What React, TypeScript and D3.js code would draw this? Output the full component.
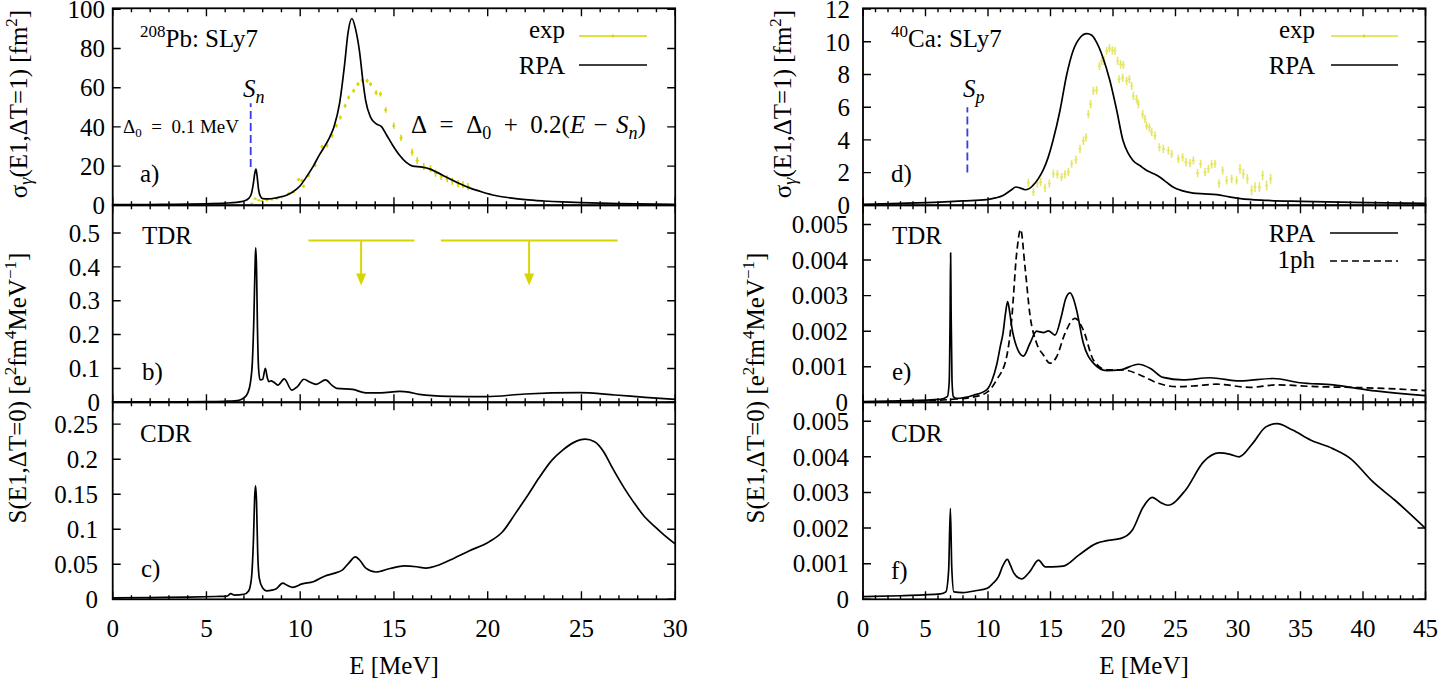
import React from "react";
import * as d3 from "d3";

type P = [number, number];
type EP = [number, number, number];

// ---------- DATA ----------
const pbSigmaRPA: P[] = [
  [0, 0.3], [1, 0.35], [2, 0.4], [3, 0.5], [4, 0.6], [5, 0.8], [6, 1.1], [6.6, 1.5], [7.0, 2.2], [7.25, 3.5],
  [7.4, 6], [7.5, 11], [7.58, 16.5], [7.64, 18.5], [7.7, 15], [7.78, 8], [7.88, 4.5], [8.0, 3.4], [8.3, 3.3],
  [8.6, 3.6], [8.9, 4.2], [9.3, 5.3], [9.6, 6.8], [10.0, 10], [10.3, 14], [10.7, 20], [11.04, 26], [11.3, 30],
  [11.57, 34.7], [11.8, 40], [12.1, 52], [12.37, 72], [12.55, 88], [12.76, 95.3], [12.95, 90], [13.17, 78],
  [13.35, 63], [13.5, 53], [13.75, 45], [14.06, 41.5], [14.32, 40.3], [14.6, 36], [14.94, 30.5], [15.3, 25.5],
  [15.64, 22], [16.0, 20], [16.5, 19.5], [16.9, 18.6], [17.3, 16.8], [17.78, 14.4], [18.4, 11.5], [19.0, 9],
  [19.7, 6.8], [20.4, 5], [21.2, 3.8], [22, 2.9], [23, 2.2], [24, 1.7], [25, 1.35], [26, 1.1], [27, 0.9],
  [28, 0.75], [29, 0.62], [30, 0.52],
];

// [E, sigma, error]
const pbSigmaExp: EP[] = [
  [7.42, 0.9, 0.3], [7.6, 3.4, 0.6], [7.78, 2.6, 0.5], [7.95, 2.2, 0.5], [8.22, 2.6, 0.5], [8.49, 2.9, 0.5],
  [8.75, 3.4, 0.5], [9.02, 4.2, 0.6], [9.38, 5.9, 0.7], [9.64, 6.8, 0.7], [9.91, 13.1, 0.8], [10.08, 12.7, 0.8],
  [10.18, 9.7, 0.8], [10.45, 15.2, 0.8], [10.8, 20.3, 0.9], [11.16, 29.9, 1], [11.43, 30.5, 1], [11.7, 35.5, 1],
  [11.93, 40.6, 1], [12.14, 44.8, 1], [12.4, 50.8, 1], [12.58, 55, 1], [12.85, 58.4, 1], [13.08, 61.8, 1],
  [13.3, 63.8, 1], [13.57, 63.5, 1], [13.75, 61.8, 1], [14.05, 57.5, 1.2], [14.28, 56.7, 1.2], [14.56, 48.6, 1.4],
  [14.99, 40.6, 1.6], [15.38, 34.4, 1.6], [15.97, 27.1, 1.7], [16.24, 22.8, 1.7], [16.59, 19.8, 1.8],
  [16.95, 18.6, 1.8], [17.22, 16.4, 1.8], [17.52, 14.7, 1.8], [17.84, 13.5, 1.8], [18.11, 12.3, 1.8],
  [18.42, 11, 1.8], [18.68, 10.5, 1.8], [18.95, 9.6, 1.8],
];

const pbTDR: P[] = [
  [0, 0.001], [3, 0.0015], [5, 0.002], [6, 0.003], [6.5, 0.004], [6.78, 0.007], [7.0, 0.013], [7.2, 0.027],
  [7.35, 0.06], [7.45, 0.12], [7.53, 0.25], [7.6, 0.42], [7.63, 0.456], [7.67, 0.4], [7.72, 0.22], [7.78, 0.1],
  [7.86, 0.066], [8.0, 0.068], [8.14, 0.1], [8.25, 0.072], [8.33, 0.061], [8.45, 0.063], [8.58, 0.06],
  [8.81, 0.051], [9.15, 0.069], [9.55, 0.036], [9.85, 0.046], [10.2, 0.068], [10.5, 0.06], [10.85, 0.053],
  [11.35, 0.066], [11.7, 0.05], [11.95, 0.041], [12.8, 0.038], [13.5, 0.028], [14.3, 0.028], [15.3, 0.032],
  [15.8, 0.03], [16.35, 0.0235], [17.9, 0.0177], [19.9, 0.0165], [22.0, 0.0245], [24.86, 0.0283],
  [26.8, 0.0215], [28.4, 0.0147], [30, 0.0088],
];

const pbCDR: P[] = [
  [0, 0.002], [2, 0.0025], [4, 0.003], [5.5, 0.004], [6.1, 0.0045], [6.3, 0.008], [6.5, 0.006], [7.0, 0.0072],
  [7.25, 0.012], [7.4, 0.03], [7.5, 0.08], [7.58, 0.15], [7.62, 0.162], [7.67, 0.14], [7.73, 0.07], [7.82, 0.03],
  [8.0, 0.016], [8.2, 0.012], [8.5, 0.013], [8.72, 0.015], [9.07, 0.023], [9.3, 0.02], [9.6, 0.017],
  [10.1, 0.022], [10.7, 0.025], [11.3, 0.033], [11.8, 0.037], [12.26, 0.042], [12.6, 0.052], [12.94, 0.0605],
  [13.2, 0.055], [13.5, 0.0445], [14.04, 0.039], [14.8, 0.044], [15.55, 0.0477], [16.2, 0.0465],
  [16.7, 0.0445], [17.4, 0.049], [18, 0.056], [19, 0.069], [20.07, 0.082], [20.78, 0.096], [21.49, 0.123],
  [22.2, 0.151], [22.73, 0.173], [23.44, 0.199], [24.0, 0.213], [24.6, 0.224], [25.2, 0.2285], [25.7, 0.225],
  [26.2, 0.21], [26.6, 0.19], [27.3, 0.158], [27.8, 0.138], [28.3, 0.12], [28.9, 0.104], [29.4, 0.092],
  [30, 0.079],
];

const caSigmaRPA: P[] = [
  [0, 0.06], [3, 0.12], [6.16, 0.2], [8, 0.27], [9.9, 0.35], [10.6, 0.45], [11.2, 0.6], [11.8, 0.9],
  [12.24, 1.12], [12.6, 1.05], [12.96, 0.95], [13.3, 1.02], [13.6, 1.22], [14.0, 1.6], [14.4, 2.13],
  [14.8, 2.9], [15.2, 3.96], [15.76, 5.8], [16.3, 8.0], [16.8, 9.44], [17.36, 10.25], [17.9, 10.5],
  [18.3, 10.4], [18.7, 9.95], [19.2, 9.03], [19.76, 7.6], [20.3, 5.8], [20.8, 3.96], [21.2, 3.2], [21.6, 2.74],
  [22.2, 2.4], [22.7, 2.13], [23.2, 1.95], [23.76, 1.72], [24.3, 1.4], [24.8, 1.12], [25.5, 0.9], [26.4, 0.75],
  [27.3, 0.7], [28.3, 0.65], [29.3, 0.52], [30.2, 0.41], [32.3, 0.3], [35, 0.24], [40.3, 0.16], [45, 0.12],
];

const caSigmaExp: EP[] = [
  [13.23, 1.37, 0.25], [13.63, 0.82, 0.25], [13.95, 1.33, 0.25], [14.21, 1.42, 0.25], [14.56, 1.07, 0.25],
  [14.91, 1.33, 0.25], [15.23, 1.93, 0.25], [15.55, 1.89, 0.25], [15.89, 1.73, 0.25], [16.16, 1.89, 0.25],
  [16.43, 2.03, 0.25], [16.69, 2.54, 0.25], [17.04, 2.78, 0.25], [17.36, 3.45, 0.25], [17.63, 3.94, 0.25],
  [17.84, 4.16, 0.25], [18.03, 5.58, 0.25], [18.21, 6.19, 0.25], [18.43, 7.0, 0.25], [18.69, 7.04, 0.25],
  [18.91, 8.52, 0.25], [19.09, 8.83, 0.25], [19.28, 8.83, 0.25], [19.49, 9.44, 0.25], [19.71, 9.6, 0.25],
  [19.95, 9.48, 0.25], [20.16, 9.44, 0.25], [20.37, 8.83, 0.25], [20.48, 7.71, 0.25], [20.61, 8.62, 0.25],
  [20.77, 7.81, 0.25], [20.83, 8.58, 0.25], [21.09, 7.6, 0.25], [21.31, 7.71, 0.25], [21.49, 7.3, 0.25],
  [21.63, 6.69, 0.25], [21.89, 6.49, 0.25], [22.03, 6.19, 0.25], [22.37, 5.58, 0.25], [22.56, 5.28, 0.25],
  [22.69, 4.87, 0.25], [22.91, 4.77, 0.25], [23.09, 4.47, 0.25], [23.36, 4.26, 0.25], [23.71, 3.55, 0.25],
  [24.03, 3.45, 0.25], [24.43, 3.35, 0.25], [24.69, 3.14, 0.25], [25.23, 2.84, 0.25], [25.57, 2.94, 0.25],
  [25.84, 2.64, 0.25], [26.16, 2.58, 0.25], [26.43, 2.74, 0.25], [26.77, 1.97, 0.25], [27.01, 2.54, 0.25],
  [27.36, 2.03, 0.25], [27.63, 2.23, 0.25], [27.89, 2.5, 0.25], [28.16, 2.54, 0.25], [28.48, 1.33, 0.25],
  [28.77, 2.13, 0.25], [29.09, 1.52, 0.25], [29.49, 1.62, 0.25], [29.89, 1.52, 0.25], [30.16, 2.23, 0.3],
  [30.43, 1.93, 0.3], [30.75, 1.62, 0.3], [31.09, 0.91, 0.3], [31.36, 1.11, 0.3], [31.71, 1.11, 0.3],
  [31.97, 1.83, 0.3], [32.29, 1.21, 0.3], [32.61, 1.62, 0.3],
];

const caTDR_RPA: P[] = [
  [0, 0.00002], [3, 0.00004], [6.16, 0.00008], [6.75, 0.00016], [6.9, 0.0006], [6.97, 0.0025], [7.01, 0.0042],
  [7.05, 0.0025], [7.12, 0.0006], [7.23, 0.00016], [7.49, 0.00011], [8.83, 0.0002], [9.89, 0.00035],
  [10.3, 0.0006], [10.69, 0.00105], [11.0, 0.0016], [11.2, 0.00194], [11.4, 0.0025], [11.57, 0.00283],
  [11.75, 0.0025], [11.9, 0.00212], [12.29, 0.00156], [12.83, 0.0013], [13.36, 0.00166], [13.89, 0.002],
  [14.15, 0.00198], [14.43, 0.00196], [14.83, 0.00201], [15.36, 0.00189], [15.89, 0.00245], [16.2, 0.0029],
  [16.56, 0.00308], [16.85, 0.0029], [17.09, 0.00259], [17.63, 0.00166], [18.43, 0.0011], [19.49, 0.00089],
  [20.56, 0.00091], [22.03, 0.00107], [23.0, 0.00095], [24.0, 0.0007], [25.6, 0.00063], [27.76, 0.00069],
  [30.16, 0.0006], [32.83, 0.00067], [34.96, 0.00055], [37.63, 0.00049], [40.3, 0.00035], [45, 0.00019],
];

const caTDR_1ph: P[] = [
  [0, 0.00001], [4, 0.00003], [7, 0.00008], [9, 0.00016], [9.99, 0.0003], [10.69, 0.00063], [11.49, 0.00128],
  [11.89, 0.00231], [12.29, 0.00418], [12.61, 0.00486], [12.96, 0.00381], [13.36, 0.00245], [13.89, 0.00166],
  [14.43, 0.00133], [14.96, 0.0011], [15.49, 0.00128], [16.16, 0.00194], [16.96, 0.00236], [17.63, 0.00203],
  [18.43, 0.00119], [19.49, 0.00091], [20.83, 0.00091], [22.16, 0.00077], [23.49, 0.00055], [25.09, 0.00044],
  [26.5, 0.00046], [28.29, 0.00051], [30.96, 0.00042], [33.09, 0.00049], [36.29, 0.00044], [38.96, 0.00042],
  [41.63, 0.00039], [45, 0.00033],
];

const caCDR: P[] = [
  [0, 0.000073], [3, 0.0001], [6.2, 0.00015], [6.63, 0.00021], [6.85, 0.0008], [6.99, 0.00255], [7.1, 0.0009],
  [7.27, 0.00021], [7.98, 0.00019], [9.0, 0.00024], [9.94, 0.00031], [10.4, 0.00045], [10.83, 0.00063],
  [11.2, 0.00095], [11.55, 0.00112], [11.8, 0.00095], [12.08, 0.00073], [12.69, 0.00057], [13.33, 0.00077],
  [14.04, 0.0011], [14.58, 0.00091], [15.12, 0.00091], [16.01, 0.00093], [17.26, 0.00124], [18.68, 0.00157],
  [19.4, 0.00164], [20.64, 0.00171], [21.54, 0.00194], [22.43, 0.0026], [23.14, 0.00286], [23.8, 0.00272],
  [24.39, 0.00264], [25.81, 0.00307], [27.24, 0.00386], [28.49, 0.00411], [29.38, 0.00407], [30.09, 0.004],
  [31.16, 0.00437], [32.23, 0.00484], [33.12, 0.00493], [34.37, 0.00475], [35.8, 0.00447], [37.58, 0.00423],
  [39.0, 0.00395], [40.78, 0.0033], [42.56, 0.00278], [45, 0.00199],
];

// experimental TDR limits (panel b): energy range, arrow position
const pbTdrLimits = [
  { lo: 10.44, hi: 16.09, at: 13.25 },
  { lo: 17.5, hi: 26.93, at: 22.21 },
];
const pbTdrLimitLevel = 0.478;
const pbTdrArrowTip = 0.345;

// thresholds
const pbSn = 7.36;
const pbSnRange: P = [19.5, 52];
const caSp = 8.35;
const caSpRange: P = [2, 6];

// tick values
const ticksA = [0, 20, 40, 60, 80, 100];
const ticksB = [0, 0.1, 0.2, 0.3, 0.4, 0.5];
const ticksC = [0, 0.05, 0.1, 0.15, 0.2, 0.25];
const ticksD = [0, 2, 4, 6, 8, 10, 12];
const ticksE = [0, 0.001, 0.002, 0.003, 0.004, 0.005];
const ticksF = [0, 0.001, 0.002, 0.003, 0.004, 0.005];

// ---------- LAYOUT ----------
const FONT = "Liberation Serif";
const FS = 25;
const COLX = [
  { x0: 112.7, x1: 675.2, xMax: 30 },
  { x0: 863, x1: 1425.5, xMax: 45 },
];
const ROWY = [8.3, 205.3, 402.3];
const PH = 197;
const YELLOW = "#d6d600";
const BLUE = "#3a3ae6";
const EN = "\u2002";
const TPM = "\u2004";

function mkX(c: number) {
  const col = COLX[c];
  return d3.scaleLinear().domain([0, col.xMax]).range([col.x0, col.x1]);
}
function mkY(r: number, max: number) {
  return d3.scaleLinear().domain([0, max]).range([ROWY[r] + PH, ROWY[r]]);
}

function T(props: any) {
  return <text fontFamily={FONT} fontSize={FS} {...props} />;
}

function Frame({ xs, ys, xMax, yTicks, labelRight, showX, id }: any) {
  const [xa, xb] = xs.range();
  const [yb, yt] = ys.range();
  const majors = d3.range(0, xMax + 0.001, 5);
  const minors = d3.range(0, xMax + 0.001, 1).filter((v: number) => v % 5 !== 0);
  let d = "";
  majors.forEach((v: number) => {
    const x = xs(v);
    d += `M${x},${yb}v-8M${x},${yt}v8`;
  });
  minors.forEach((v: number) => {
    const x = xs(v);
    d += `M${x},${yb}v-4M${x},${yt}v4`;
  });
  yTicks.forEach((v: number) => {
    const y = ys(v);
    d += `M${xa},${y}h8M${xb},${y}h-8`;
  });
  return (
    <g>
      <path d={d} stroke="#000" strokeWidth={1.4} fill="none" />
      <rect x={xa} y={yt} width={xb - xa} height={yb - yt} fill="none" stroke="#000" strokeWidth={1.8} />
      {yTicks.map((v: number) => (
        <T key={id + "y" + v} x={labelRight} y={ys(v)} dy="0.35em" textAnchor="end">
          {String(v)}
        </T>
      ))}
      {showX &&
        majors.map((v: number) => (
          <T key={id + "x" + v} x={xs(v)} y={637} textAnchor="middle">
            {String(v)}
          </T>
        ))}
    </g>
  );
}

function Curve({ data, xs, ys, dash, clip }: any) {
  const line = d3
    .line<P>()
    .x((p) => xs(p[0]))
    .y((p) => ys(p[1]))
    .curve(d3.curveMonotoneX);
  return (
    <path
      d={line(data) || ""}
      fill="none"
      stroke="#000"
      strokeWidth={1.7}
      strokeDasharray={dash}
      clipPath={`url(#${clip})`}
      strokeLinejoin="round"
    />
  );
}

function ExpPoints({ data, xs, ys, color, opacity, cap }: any) {
  let d = "";
  data.forEach((p: EP) => {
    const x = xs(p[0]);
    const y = ys(p[1]);
    const y1 = ys(p[1] + p[2]);
    const y2 = ys(p[1] - p[2]);
    d += `M${x},${y1}V${y2}M${x - cap},${y}h${2 * cap}`;
  });
  return <path d={d} stroke={color} strokeOpacity={opacity} strokeWidth={1.6} fill="none" />;
}

export default function App() {
  const xL = mkX(0);
  const xR = mkX(1);
  const yA = mkY(0, 100.5);
  const yB = mkY(1, 0.5817);
  const yC = mkY(2, 0.2812);
  const yD = mkY(0, 12.05);
  const yE = mkY(1, 0.00554);
  const yF = mkY(2, 0.00553);

  const panels = [
    { id: "a", xs: xL, ys: yA },
    { id: "b", xs: xL, ys: yB },
    { id: "c", xs: xL, ys: yC },
    { id: "d", xs: xR, ys: yD },
    { id: "e", xs: xR, ys: yE },
    { id: "f", xs: xR, ys: yF },
  ];

  return (
    <svg
      width={1439}
      height={682}
      fontFamily={FONT}
      style={{ position: "absolute", left: 0, top: 0, background: "#fff" }}
    >
      <defs>
        {panels.map((p) => (
          <clipPath id={"clip" + p.id} key={p.id}>
            <rect
              x={p.xs.range()[0]}
              y={p.ys.range()[1]}
              width={p.xs.range()[1] - p.xs.range()[0]}
              height={p.ys.range()[0] - p.ys.range()[1]}
            />
          </clipPath>
        ))}
      </defs>

      {/* ---------- panel a ---------- */}
      <ExpPoints data={pbSigmaExp} xs={xL} ys={yA} color={YELLOW} opacity={1} cap={1.5} />
      <Curve data={pbSigmaRPA} xs={xL} ys={yA} clip="clipa" />
      <line
        x1={xL(pbSn)}
        x2={xL(pbSn)}
        y1={yA(pbSnRange[0])}
        y2={yA(pbSnRange[1])}
        stroke={BLUE}
        strokeWidth={1.8}
        strokeDasharray="8,4"
      />
      <T x={140} y={47}>
        <tspan dy={-10} fontSize={17}>208</tspan>
        <tspan dy={10}>Pb: SLy7</tspan>
      </T>
      <T x={243} y={97}>
        <tspan fontStyle="italic">S</tspan>
        <tspan dy={6} fontSize={18} fontStyle="italic">n</tspan>
      </T>
      <T x={123} y={133} fontSize={19}>
        <tspan>Δ</tspan>
        <tspan dy={4} fontSize={13}>0</tspan>
        <tspan dy={-4}>{`${EN}=${EN}0.1 MeV`}</tspan>
      </T>
      <T x={411} y={133}>
        <tspan>{`Δ${EN}=${EN}Δ`}</tspan>
        <tspan dy={6} fontSize={18}>0</tspan>
        <tspan dy={-6}>{`${EN}+${EN}0.2(`}</tspan>
        <tspan fontStyle="italic">E</tspan>
        <tspan>{`${TPM}−${TPM}`}</tspan>
        <tspan fontStyle="italic">S</tspan>
        <tspan dy={6} fontSize={18} fontStyle="italic">n</tspan>
        <tspan dy={-6}>)</tspan>
      </T>
      <T x={140} y={182}>a)</T>
      <T x={565} y={38} textAnchor="end">exp</T>
      <line x1={579} x2={647} y1={36} y2={36} stroke={YELLOW} strokeWidth={1.6} />
      <line x1={613} x2={613} y1={34.5} y2={37.5} stroke={YELLOW} strokeWidth={1.6} />
      <T x={565} y={74} textAnchor="end">RPA</T>
      <line x1={579} x2={647} y1={65} y2={65} stroke="#000" strokeWidth={1.7} />

      {/* ---------- panel b ---------- */}
      <Curve data={pbTDR} xs={xL} ys={yB} clip="clipb" />
      {pbTdrLimits.map((l, i) => {
        const yl = yB(pbTdrLimitLevel);
        const yt = yB(pbTdrArrowTip);
        const xa = xL(l.at);
        return (
          <g key={"lim" + i}>
            <line x1={xL(l.lo)} x2={xL(l.hi)} y1={yl} y2={yl} stroke={YELLOW} strokeWidth={2} />
            <line x1={xa} x2={xa} y1={yl} y2={yt - 10} stroke={YELLOW} strokeWidth={2} />
            <path d={`M${xa - 5},${yt - 12}L${xa + 5},${yt - 12}L${xa},${yt}Z`} fill={YELLOW} />
          </g>
        );
      })}
      <T x={142} y={244}>TDR</T>
      <T x={142} y={380}>b)</T>

      {/* ---------- panel c ---------- */}
      <Curve data={pbCDR} xs={xL} ys={yC} clip="clipc" />
      <T x={140} y={442}>CDR</T>
      <T x={141} y={577}>c)</T>

      {/* ---------- panel d ---------- */}
      <ExpPoints data={caSigmaExp} xs={xR} ys={yD} color={YELLOW} opacity={0.6} cap={1.5} />
      <Curve data={caSigmaRPA} xs={xR} ys={yD} clip="clipd" />
      <line
        x1={xR(caSp)}
        x2={xR(caSp)}
        y1={yD(caSpRange[0])}
        y2={yD(caSpRange[1])}
        stroke={BLUE}
        strokeWidth={1.8}
        strokeDasharray="8,4"
      />
      <T x={891} y={47}>
        <tspan dy={-10} fontSize={17}>40</tspan>
        <tspan dy={10}>Ca: SLy7</tspan>
      </T>
      <T x={963} y={97}>
        <tspan fontStyle="italic">S</tspan>
        <tspan dy={6} fontSize={18} fontStyle="italic">p</tspan>
      </T>
      <T x={891} y={182}>d)</T>
      <T x={1315} y={38} textAnchor="end">exp</T>
      <line x1={1331} x2={1398} y1={36} y2={36} stroke={YELLOW} strokeWidth={1.6} strokeOpacity={0.8} />
      <line x1={1364} x2={1364} y1={34.5} y2={37.5} stroke={YELLOW} strokeWidth={1.6} />
      <T x={1315} y={74} textAnchor="end">RPA</T>
      <line x1={1331} x2={1398} y1={65} y2={65} stroke="#000" strokeWidth={1.7} />

      {/* ---------- panel e ---------- */}
      <Curve data={caTDR_1ph} xs={xR} ys={yE} clip="clipe" dash="7,4" />
      <Curve data={caTDR_RPA} xs={xR} ys={yE} clip="clipe" />
      <T x={892} y={244}>TDR</T>
      <T x={892} y={380}>e)</T>
      <T x={1315} y={242} textAnchor="end">RPA</T>
      <line x1={1330} x2={1398} y1={233} y2={233} stroke="#000" strokeWidth={1.7} />
      <T x={1315} y={268} textAnchor="end">1ph</T>
      <line x1={1330} x2={1398} y1={261} y2={261} stroke="#000" strokeWidth={1.7} strokeDasharray="7,4" />

      {/* ---------- panel f ---------- */}
      <Curve data={caCDR} xs={xR} ys={yF} clip="clipf" />
      <T x={891} y={442}>CDR</T>
      <T x={891} y={579}>f)</T>

      {/* ---------- frames ---------- */}
      <Frame id="a" xs={xL} ys={yA} xMax={30} yTicks={ticksA} labelRight={105} showX={false} />
      <Frame id="b" xs={xL} ys={yB} xMax={30} yTicks={ticksB} labelRight={100} showX={false} />
      <Frame id="c" xs={xL} ys={yC} xMax={30} yTicks={ticksC} labelRight={98} showX={true} />
      <Frame id="d" xs={xR} ys={yD} xMax={45} yTicks={ticksD} labelRight={850} showX={false} />
      <Frame id="e" xs={xR} ys={yE} xMax={45} yTicks={ticksE} labelRight={848} showX={false} />
      <Frame id="f" xs={xR} ys={yF} xMax={45} yTicks={ticksF} labelRight={849} showX={true} />

      {/* ---------- axis labels ---------- */}
      <T x={394} y={674} textAnchor="middle">E [MeV]</T>
      <T x={1144} y={674} textAnchor="middle">E [MeV]</T>

      {[
        { cx: 18, cy: 104 },
        { cx: 782, cy: 104 },
      ].map((p, i) => (
        <T
          key={"yl1" + i}
          transform={`translate(${p.cx},${p.cy}) rotate(-90)`}
          dy="0.35em"
          textAnchor="middle"
        >
          <tspan>σ</tspan>
          <tspan dy={5} fontSize={18} fontStyle="italic">γ</tspan>
          <tspan dy={-5}>(E1,ΔT=1) [fm</tspan>
          <tspan dy={-10} fontSize={17}>2</tspan>
          <tspan dy={10}>]</tspan>
        </T>
      ))}
      {[
        { cx: 17.5, cy: 388 },
        { cx: 755, cy: 388 },
      ].map((p, i) => (
        <T
          key={"yl2" + i}
          transform={`translate(${p.cx},${p.cy}) rotate(-90)`}
          dy="0.35em"
          textAnchor="middle"
        >
          <tspan>S(E1,ΔT=0) [e</tspan>
          <tspan dy={-10} fontSize={17}>2</tspan>
          <tspan dy={10}>fm</tspan>
          <tspan dy={-10} fontSize={17}>4</tspan>
          <tspan dy={10}>MeV</tspan>
          <tspan dy={-10} fontSize={17}>−1</tspan>
          <tspan dy={10}>]</tspan>
        </T>
      ))}
    </svg>
  );
}
